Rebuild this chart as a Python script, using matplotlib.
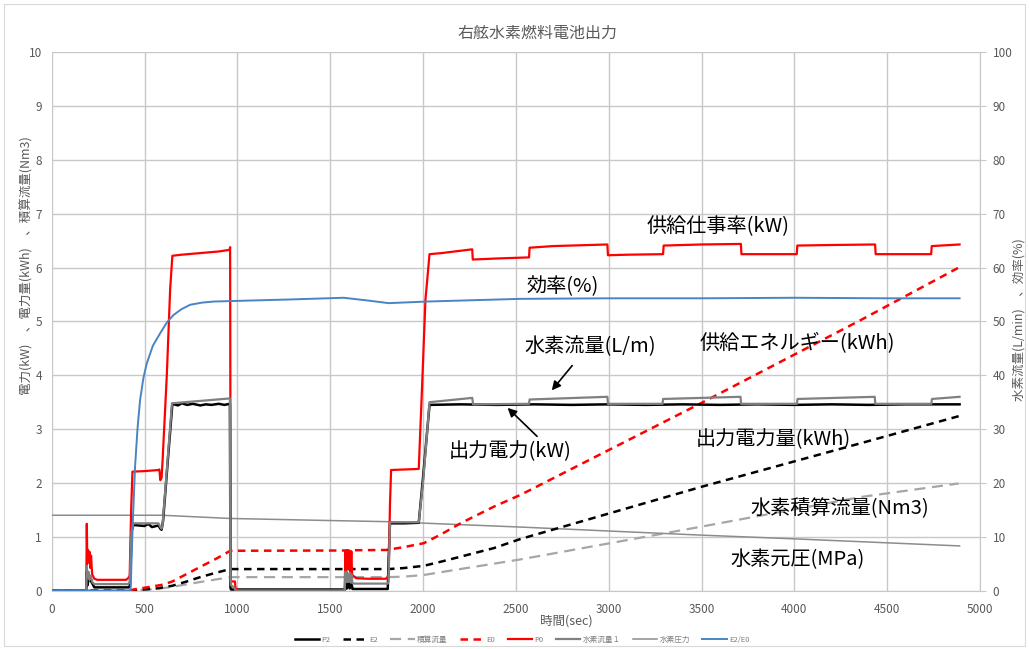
import matplotlib
matplotlib.use("Agg")
import matplotlib.pyplot as plt
from matplotlib.patches import Rectangle

plt.rcParams['font.family'] = ['Noto Sans CJK JP', 'DejaVu Sans']

# ---- time series (sec) ----
# P0: supplied power (kW)
p0_t = [0, 186, 189, 192, 196, 200, 204, 208, 212, 218, 230, 245, 300, 400, 412, 420,
        428, 435, 500, 575, 580, 585, 592, 597, 620, 638, 650, 700, 800, 900, 958, 961,
        964, 967, 970, 987, 990, 1000, 1004, 1578, 1582, 1586, 1591, 1596, 1605, 1609,
        1614, 1618, 1623, 1640, 1700, 1800, 1808, 1815, 1822, 1828, 1900, 1977, 1995,
        2013, 2035, 2100, 2265, 2268, 2400, 2571, 2574, 2700, 2993, 2996, 3100, 3293,
        3296, 3500, 3712, 3715, 3900, 4013, 4016, 4200, 4435, 4438, 4600, 4737, 4740,
        4890]
p0_v = [0, 0, 1.24, 0.50, 0.75, 0.55, 0.72, 0.42, 0.65, 0.30, 0.22, 0.20, 0.20, 0.20,
        0.23, 0.28, 1.50, 2.21, 2.22, 2.24, 2.25, 2.05, 2.10, 2.40, 4.00, 5.60, 6.22,
        6.24, 6.27, 6.30, 6.33, 6.38, 0.17, 0.17, 0.17, 0.17, 0.04, 0.03, 0, 0, 0.74,
        0.35, 0.75, 0.40, 0.74, 0.35, 0.73, 0.30, 0.28, 0.23, 0.22, 0.22, 0.25, 0.30,
        1.60, 2.24, 2.25, 2.26, 3.80, 5.40, 6.25, 6.27, 6.34, 6.15, 6.17, 6.19, 6.37,
        6.40, 6.43, 6.23, 6.24, 6.25, 6.41, 6.43, 6.44, 6.25, 6.25, 6.25, 6.41, 6.42,
        6.43, 6.25, 6.25, 6.25, 6.40, 6.43]

# P2: fuel cell output power (kW)
p2_t = [0, 186, 189, 193, 200, 230, 415, 422, 430, 440, 500, 520, 540, 575, 585, 592,
        600, 625, 650, 680, 700, 730, 760, 800, 830, 860, 900, 930, 960, 963, 966, 1580,
        1584, 1590, 1596, 1605, 1612, 1620, 1625, 1810, 1815, 1822, 1900, 1977, 2000,
        2035, 2200, 2400, 2600, 2800, 3000, 3200, 3400, 3600, 3800, 4000, 4200, 4400,
        4600, 4800, 4890]
p2_v = [0, 0, 0.35, 0.10, 0.25, 0.06, 0.06, 0.10, 1.10, 1.22, 1.20, 1.24, 1.18, 1.21,
        1.15, 1.13, 1.30, 2.40, 3.47, 3.44, 3.48, 3.45, 3.47, 3.44, 3.46, 3.45, 3.47,
        3.45, 3.47, 0.05, 0.02, 0.02, 0.20, 0.04, 0.20, 0.04, 0.18, 0.03, 0.03, 0.03,
        0.60, 1.25, 1.25, 1.26, 2.10, 3.45, 3.46, 3.45, 3.46, 3.45, 3.46, 3.45, 3.46,
        3.45, 3.46, 3.45, 3.46, 3.45, 3.46, 3.46, 3.46]

# Hydrogen flow (L/min, right axis)
h2f_t = [0, 186, 189, 193, 198, 204, 210, 220, 230, 412, 420, 430, 440, 575, 585, 592,
         597, 648, 960, 963, 966, 985, 990, 1578, 1582, 1587, 1591, 1597, 1605, 1610,
         1614, 1620, 1625, 1810, 1814, 1822, 1977, 2000, 2035, 2265, 2270, 2571, 2574,
         2993, 2996, 3290, 3293, 3710, 3713, 4014, 4017, 4433, 4436, 4738, 4741, 4890]
h2f_v = [0, 0, 4.5, 2.5, 3.5, 2.0, 2.8, 1.5, 1.2, 1.2, 1.6, 11.0, 12.5, 12.5, 11.8,
         11.5, 12.2, 34.8, 35.7, 2.5, 1.0, 0.5, 0, 0, 3.5, 1.6, 3.5, 1.6, 3.2, 1.5, 3.0,
         1.4, 1.3, 1.3, 1.6, 12.7, 12.7, 20.0, 35.0, 35.8, 34.6, 34.7, 35.5, 36.0, 34.7,
         34.7, 35.6, 36.0, 34.7, 34.7, 35.6, 36.0, 34.7, 34.7, 35.6, 36.0]

# Hydrogen source pressure (MPa)
pr_t = [0, 593, 962, 1519, 1815, 2526, 3502, 4009, 4890]
pr_v = [1.40, 1.40, 1.34, 1.30, 1.28, 1.18, 1.03, 0.96, 0.83]

# E2/E0: cumulative efficiency (%, right axis)
ef_t = [0, 425, 436, 449, 462, 476, 494, 512, 545, 584, 620, 656, 700, 746, 810, 872,
        980, 1300, 1573, 1700, 1815, 2022, 2526, 3000, 3500, 4000, 4500, 4890]
ef_v = [0, 0, 12.0, 23.0, 30.0, 35.4, 39.5, 42.2, 45.5, 47.8, 49.8, 51.2, 52.3, 53.1,
        53.5, 53.7, 53.8, 54.1, 54.4, 53.9, 53.4, 53.7, 54.2, 54.3, 54.3, 54.4, 54.3,
        54.3]

# E0: supplied energy (kWh)
e0_t = [0, 426, 440, 512, 600, 620, 650, 728, 800, 890, 962, 1580, 1630, 1806, 1900,
        2004, 2100, 2202, 2382, 2526, 3502, 4360, 4885]
e0_v = [0, 0, 0.02, 0.06, 0.11, 0.135, 0.17, 0.31, 0.44, 0.60, 0.74, 0.745, 0.75,
        0.755, 0.81, 0.88, 1.05, 1.25, 1.56, 1.78, 3.49, 5.03, 6.00]

# E2: output energy (kWh)
e2_t = [0, 426, 460, 566, 650, 728, 800, 872, 962, 1815, 1900, 2004, 2100, 2202, 2382,
        2526, 3502, 4360, 4885]
e2_v = [0, 0, 0.01, 0.04, 0.09, 0.17, 0.25, 0.32, 0.40, 0.40, 0.42, 0.46, 0.54, 0.63,
        0.79, 0.96, 1.93, 2.74, 3.24]

# Integrated hydrogen flow (Nm3)
hq_t = [0, 426, 566, 650, 800, 962, 1815, 1900, 2004, 2200, 2526, 3502, 4360, 4885]
hq_v = [0, 0, 0.03, 0.07, 0.16, 0.25, 0.25, 0.26, 0.29, 0.40, 0.58, 1.19, 1.74, 1.99]

x_ticks = list(range(0, 5001, 500))
left_ticks = list(range(0, 11))
right_ticks = list(range(0, 101, 10))

# ---- figure ----
W, H = 1029, 649
fig = plt.figure(figsize=(W / 100, H / 100), dpi=100)
fig.patches.append(Rectangle((4 / W, 3 / H), 1 - 8 / W, 1 - 7 / H, transform=fig.transFigure,
                             fill=False, edgecolor='#d9d9d9', lw=0.8))

ax = fig.add_axes([51.7 / W, 1 - 590.6 / H, (980 - 51.7) / W, (590.6 - 52.3) / H])
ax2 = ax.twinx()

tick_gray = '#595959'
grid_gray = '#c8c8c8'

ax.set_xlim(0, 5000)
ax.set_ylim(0, 10)
ax2.set_ylim(0, 100)
ax.set_xticks(x_ticks)
ax.set_yticks(left_ticks)
ax2.set_yticks(right_ticks)
ax.grid(True, color=grid_gray, lw=1.0)
ax.set_axisbelow(True)
for a in (ax, ax2):
    for s in a.spines.values():
        s.set_visible(False)
ax2.spines['right'].set_visible(True)
ax2.spines['right'].set_color(grid_gray)
ax.spines['bottom'].set_visible(True)
ax.spines['bottom'].set_color(grid_gray)
ax.tick_params(axis='both', length=0, labelsize=8.5, labelcolor=tick_gray, pad=7)
ax.tick_params(axis='x', pad=9)
ax2.tick_params(axis='y', length=4, color=grid_gray, labelsize=8.5, labelcolor=tick_gray,
                pad=5)

# ---- series ----
l_hq, = ax.plot(hq_t, hq_v, color='#a6a6a6', lw=1.6, dashes=(5, 3), label='積算流量')
l_pr, = ax.plot(pr_t, pr_v, color='#8c8c8c', lw=1.1, label='水素圧力')
l_e2, = ax.plot(e2_t, e2_v, color='black', lw=1.8, dashes=(3, 2.2), label='E2')
l_e0, = ax.plot(e0_t, e0_v, color='#ff0000', lw=1.8, dashes=(3, 2.2), label='E0')
l_p2, = ax.plot(p2_t, p2_v, color='black', lw=1.8, label='P2')
l_p0, = ax.plot(p0_t, p0_v, color='#ff0000', lw=1.6, label='P0')
l_f, = ax2.plot(h2f_t, h2f_v, color='#808080', lw=1.6, label='水素流量１')
l_ef, = ax2.plot(ef_t, ef_v, color='#4a84c4', lw=1.4, label='E2/E0')

# ---- labels ----
fig.text(538 / W, 1 - 33 / H, '右舷水素燃料電池出力', ha='center', va='center',
         fontsize=11.5, color=tick_gray)
fig.text(566 / W, 1 - 621 / H, '時間(sec)', ha='center', va='center', fontsize=9,
         color=tick_gray)
fig.text(27 / W, 1 - 266 / H, '電力(kW)　、電力量(kWh)　、積算流量(Nm3)', rotation=90,
         ha='center', va='center', fontsize=9, color=tick_gray)
fig.text(1019 / W, 1 - 320 / H, '水素流量(L/min)　、効率(%)', rotation=90,
         ha='center', va='center', fontsize=9, color=tick_gray)

note = dict(ha='center', va='center', fontsize=14.5, color='black')
ax2.text(3587, 67.7, '供給仕事率(kW)', **note)
ax2.text(2751, 56.5, '効率(%)', **note)
ax2.text(2903, 45.3, '水素流量(L/m)', **note)
ax2.text(4018, 45.8, '供給エネルギー(kWh)', **note)
ax2.text(2472, 25.8, '出力電力(kW)', **note)
ax2.text(3888, 28.0, '出力電力量(kWh)', **note)
ax2.text(4247, 15.3, '水素積算流量(Nm3)', **note)
ax2.text(4017, 5.8, '水素元圧(MPa)', **note)

arrow = dict(arrowstyle='-|>', color='black', lw=1.2, mutation_scale=13)
ax2.annotate('', xy=(2684, 36.8), xytext=(2813, 42.2), arrowprops=arrow)
ax2.annotate('', xy=(2445, 34.3), xytext=(2625, 28.3), arrowprops=arrow)

handles = [l_p2, l_e2, l_hq, l_e0, l_p0, l_f, l_pr, l_ef]
leg = fig.legend(handles=handles, labels=[h.get_label() for h in handles], ncol=8,
                 loc='center', bbox_to_anchor=(522 / W, 1 - 640 / H), frameon=False,
                 fontsize=5.5, handlelength=3.2, columnspacing=1.6, handletextpad=0.3)
for t in leg.get_texts():
    t.set_color('#7f7f7f')

fig.savefig('out.png', dpi=100)
